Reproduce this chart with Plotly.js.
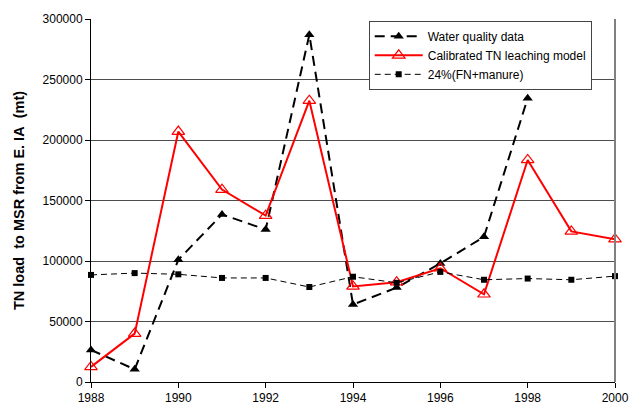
<!DOCTYPE html>
<html>
<head>
<meta charset="utf-8">
<script src="https://cdn.plot.ly/plotly-3.0.1.min.js"></script>
<style>html,body{margin:0;padding:0;background:#fff;}#chart{width:629px;height:408px;}</style>
</head>
<body>
<div id="chart"></div>
<script>
const years = [1988, 1989, 1990, 1991, 1992, 1993, 1994, 1995, 1996, 1997, 1998, 1999, 2000];
const waterYears = [1988, 1989, 1990, 1991, 1992, 1993, 1994, 1995, 1996, 1997, 1998];
const waterQuality = [26500, 10500, 101000, 138500, 126000, 287000, 64000, 78000, 98000, 120000, 234500];
const calibratedModel = [12500, 40000, 207000, 159000, 137500, 232500, 79000, 82500, 94000, 72500, 183500, 124500, 118000];
const fnManure24 = [88500, 90000, 89000, 86000, 86000, 78500, 87000, 82000, 91000, 84500, 85500, 84500, 87500];
const names = ['Water quality data', 'Calibrated TN leaching model', '24%(FN+manure)'];
const xTicks = [1988, 1990, 1992, 1994, 1996, 1998, 2000];
const yTicks = [0, 50000, 100000, 150000, 200000, 250000, 300000];

const font = {family: 'Liberation Sans, Arial, sans-serif', color: '#000'};

const traces = [
  {
    x: waterYears, y: waterQuality, name: names[0], type: 'scatter', mode: 'lines+markers',
    line: {color: '#000', width: 2, dash: '10px,6px'},
    marker: {symbol: 'triangle-up', size: 9, color: '#000'},
    cliponaxis: false
  },
  {
    x: years, y: calibratedModel, name: names[1], type: 'scatter', mode: 'lines+markers',
    line: {color: '#ff0000', width: 2},
    marker: {symbol: 'triangle-up-open', size: 11, color: '#ff0000', line: {width: 1.2}},
    cliponaxis: false
  },
  {
    x: years, y: fnManure24, name: names[2], type: 'scatter', mode: 'lines+markers',
    line: {color: '#000', width: 1, dash: '6px,4px'},
    marker: {symbol: 'square', size: 6, color: '#000'},
    cliponaxis: false
  }
];

const layout = {
  width: 629, height: 408,
  margin: {l: 91, r: 14, t: 19, b: 26},
  paper_bgcolor: '#fff', plot_bgcolor: '#fff',
  font: Object.assign({size: 12}, font),
  showlegend: true,
  legend: {
    x: 0.53, y: 0.995, xanchor: 'left', yanchor: 'top',
    bgcolor: '#fff', bordercolor: '#444', borderwidth: 1,
    font: Object.assign({size: 12}, font),
    tracegroupgap: 0, itemwidth: 48,
    traceorder: 'normal'
  },
  xaxis: {
    range: [1988, 2000], tickvals: xTicks, ticktext: xTicks.map(String),
    showgrid: false, zeroline: false,
    showline: true, linecolor: '#000', linewidth: 1,
    ticks: 'outside', ticklen: 5, tickcolor: '#000',
    ticklabeloverflow: 'allow',
    tickfont: Object.assign({size: 12}, font)
  },
  yaxis: {
    range: [0, 300000], tickvals: yTicks, ticktext: yTicks.map(String),
    showgrid: true, gridcolor: '#4d4d4d', gridwidth: 1,
    zeroline: false,
    showline: true, linecolor: '#000', linewidth: 1,
    ticks: 'outside', ticklen: 5, tickcolor: '#000',
    tickfont: Object.assign({size: 12}, font),
    title: {text: 'TN load\u00a0\u00a0to MSR from E. IA\u00a0\u00a0(mt)', standoff: 14,
            font: Object.assign({size: 14.5, weight: 'bold'}, font)}
  },
  shapes: [
    {type: 'line', xref: 'paper', yref: 'paper', x0: 1, x1: 1, y0: 0, y1: 1,
     line: {color: '#808080', width: 2}}
  ]
};

Plotly.newPlot('chart', traces, layout, {displayModeBar: false, staticPlot: true});
</script>
</body>
</html>
